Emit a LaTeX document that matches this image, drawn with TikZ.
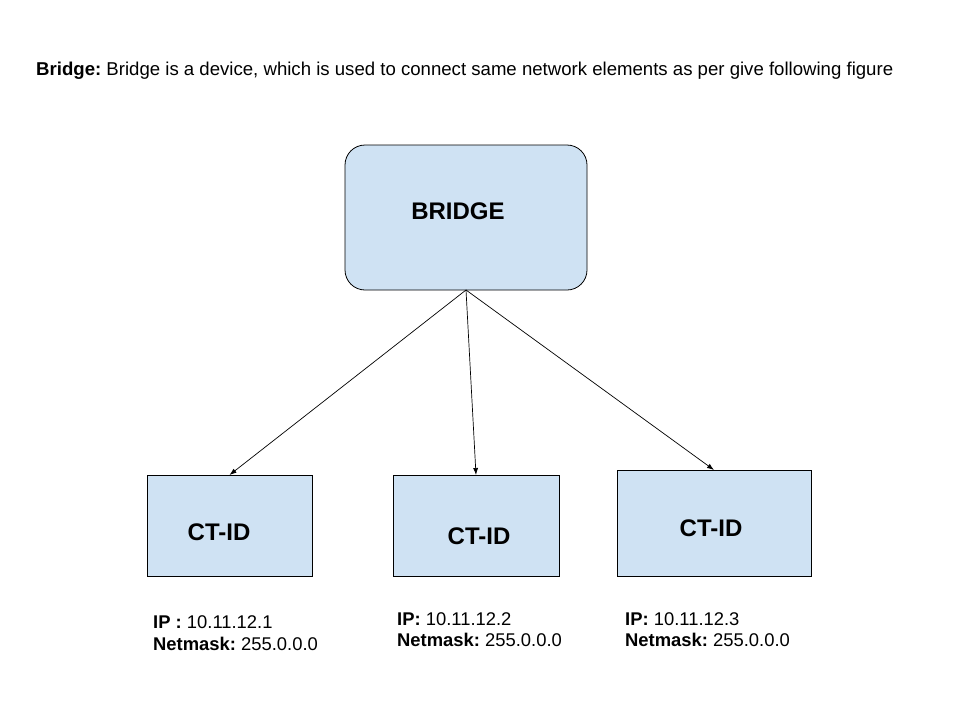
\documentclass[tikz,border=0pt]{standalone}
\usepackage{fontspec}
\setmainfont{Liberation Sans}
\usetikzlibrary{arrows.meta}
\usetikzlibrary{positioning}
\frenchspacing
\definecolor{boxblue}{HTML}{CFE2F3}
\tikzset{devbox/.style = {draw, fill = boxblue, line width = 0.8pt, inner sep = 0, outer sep = 0}}
\tikzset{boxtext/.style = {font = \fontsize{24}{28}\selectfont\bfseries, inner sep = 0}}
\tikzset{addr/.style = {font = \fontsize{18.4}{21.5}\selectfont, align = left, anchor = base west, inner sep = 0}}
\tikzset{link/.style = {-{Latex[length = 7pt, width = 5pt]}, line width = 0.7pt}}

\begin{document}
\begin{tikzpicture}[x = 1pt, y = -1pt]
      \useasboundingbox (0, 0) rectangle (960, 720);
      \node [anchor = base west, inner sep = 0, font = \fontsize{18.6}{22}\selectfont] (title) at (36, 75)
        {\textbf{Bridge:} Bridge is a device, which is used to connect same network elements as per give following figure};
      \node [devbox, rounded corners = 20, minimum width = 242, minimum height = 145] (bridge) at (466, 217.5) {};
      \node [boxtext] (bridgelabel) at (458, 211) {BRIDGE};
      \foreach \i/\x/\y/\w/\h/\tx/\ty in {1/229.5/525.5/165/101/219/532, 2/476/525.5/166/101/479/536, 3/714/523/194/106/711/528} {
        \node [devbox, minimum width = \w, minimum height = \h] (ct\i) at (\x, \y) {};
        \node [boxtext] (ctlabel\i) at (\tx, \ty) {CT-ID};
        \draw [link] (bridge.south) -- (ct\i.north);
      }
      % base anchor sits on the last line
      \node [addr] (addr1) at (153, 650) {\textbf{IP :} 10.11.12.1\\\textbf{Netmask:} 255.0.0.0};
      \node [addr] (addr2) at (397, 646.5) {\textbf{IP:} 10.11.12.2\\\textbf{Netmask:} 255.0.0.0};
      \node [addr] (addr3) at (625, 646.5) {\textbf{IP:} 10.11.12.3\\\textbf{Netmask:} 255.0.0.0};
    \end{tikzpicture}
\end{document}
